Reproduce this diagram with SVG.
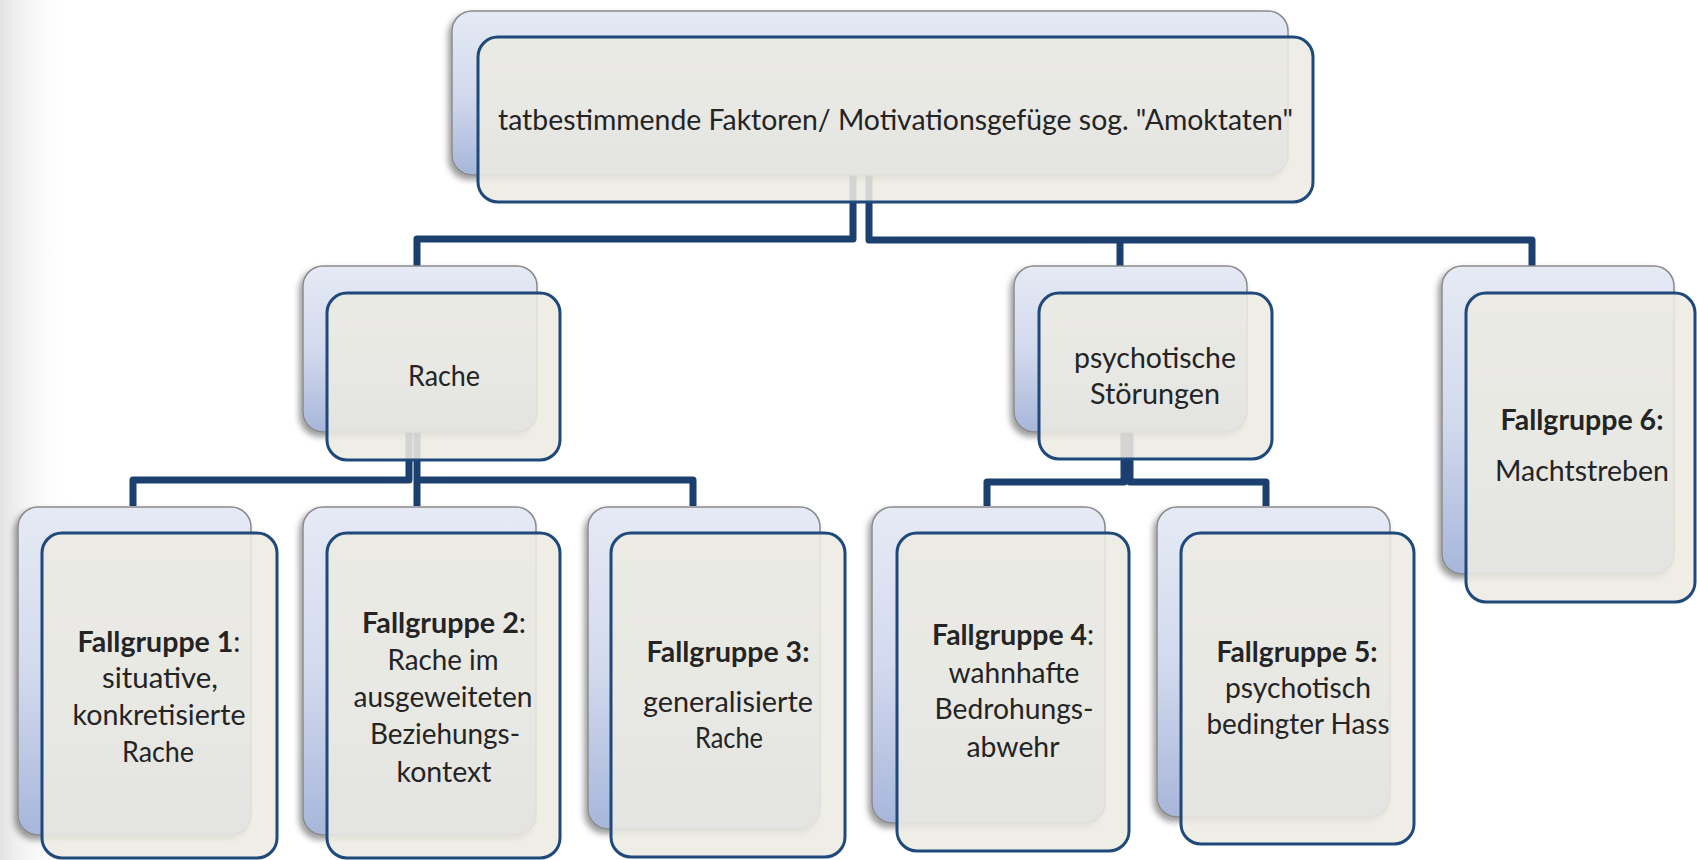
<svg xmlns="http://www.w3.org/2000/svg" width="1697" height="860" viewBox="0 0 1697 860">
<style>
.back{fill:url(#gBack);stroke:#8a8a8a;stroke-width:1.5;filter:url(#sh)}
.front{fill:#ECEAE2;fill-opacity:0.88;stroke:#1F487B;stroke-width:3}
.conn{fill:none;stroke:#1B3F6E;stroke-width:7;stroke-linejoin:round}
text{font-family:'Liberation Sans Narrow',Lato,'Liberation Sans',sans-serif;font-size:28px;fill:#242424;text-anchor:middle}
.b{font-weight:bold}
</style>
<defs>
<linearGradient id="gBack" x1="0" y1="0" x2="0" y2="1">
<stop offset="0" stop-color="#E6EAF5"/>
<stop offset="0.5" stop-color="#D3DAEE"/>
<stop offset="1" stop-color="#A7B6DA"/>
</linearGradient>
<linearGradient id="gEdge" x1="0" y1="0" x2="1" y2="0">
<stop offset="0" stop-color="#d8d8d8" stop-opacity="0.7"/>
<stop offset="1" stop-color="#ffffff" stop-opacity="0"/>
</linearGradient>
<filter id="sh" x="-10%" y="-10%" width="120%" height="125%">
<feDropShadow dx="-3" dy="4" stdDeviation="3" flood-color="#000" flood-opacity="0.4"/>
</filter>
</defs>
<rect width="1697" height="860" fill="#fff"/>
<rect width="70" height="860" fill="url(#gEdge)"/>
<g id="connectors">
<path class="conn" d="M853 170 V239 H417 V266"/>
<path class="conn" d="M869 170 V240 H1532 V268"/>
<path class="conn" d="M1120 240 V268"/>
<path class="conn" d="M409 425 V480 H133 V506"/>
<path class="conn" d="M417 425 V506"/>
<path class="conn" d="M417 480 H693 V506"/>
<path class="conn" d="M1124 425 V482 H987 V506"/>
<path class="conn" d="M1130 425 V482 H1266 V506"/>
</g>
<g id="node-top">
<rect class="back" x="452" y="11" width="836" height="164" rx="20"/>
<rect class="front" x="478" y="37" width="835" height="165" rx="20"/>
<text x="895.5" y="130" textLength="795" lengthAdjust="spacingAndGlyphs">tatbestimmende Faktoren/ Motivationsgefüge sog. "Amoktaten"</text>
</g>
<g id="node-rache">
<rect class="back" x="303" y="266" width="234" height="166" rx="20"/>
<rect class="front" x="327" y="293" width="233" height="167" rx="20"/>
<text x="444" y="386" textLength="72" lengthAdjust="spacingAndGlyphs">Rache</text>
</g>
<g id="node-psych">
<rect class="back" x="1014" y="266" width="233" height="166" rx="20"/>
<rect class="front" x="1039" y="293" width="233" height="166" rx="20"/>
<text x="1155" y="368" textLength="162" lengthAdjust="spacingAndGlyphs">psychotische</text>
<text x="1155" y="404" textLength="130" lengthAdjust="spacingAndGlyphs">Störungen</text>
</g>
<g id="node-fg6">
<rect class="back" x="1442" y="266" width="232" height="308" rx="20"/>
<rect class="front" x="1466" y="293" width="229" height="309" rx="20"/>
<text x="1582" y="430" class="b" textLength="163" lengthAdjust="spacingAndGlyphs">Fallgruppe 6:</text>
<text x="1582" y="481" textLength="174" lengthAdjust="spacingAndGlyphs">Machtstreben</text>
</g>
<g id="node-fg1">
<rect class="back" x="18" y="507" width="233" height="328" rx="20"/>
<rect class="front" x="42" y="533" width="235" height="325" rx="20"/>
<text x="159" y="652" textLength="163" lengthAdjust="spacingAndGlyphs"><tspan class="b">Fallgruppe 1</tspan>:</text>
<text x="160" y="688" textLength="116" lengthAdjust="spacingAndGlyphs">situative,</text>
<text x="159" y="725" textLength="173" lengthAdjust="spacingAndGlyphs">konkretisierte</text>
<text x="158" y="762" textLength="72" lengthAdjust="spacingAndGlyphs">Rache</text>
</g>
<g id="node-fg2">
<rect class="back" x="303" y="507" width="233" height="328" rx="20"/>
<rect class="front" x="327" y="533" width="233" height="325" rx="20"/>
<text x="444" y="633" textLength="164" lengthAdjust="spacingAndGlyphs"><tspan class="b">Fallgruppe 2</tspan>:</text>
<text x="443" y="670" textLength="111" lengthAdjust="spacingAndGlyphs">Rache im</text>
<text x="443" y="707" textLength="179" lengthAdjust="spacingAndGlyphs">ausgeweiteten</text>
<text x="445" y="744" textLength="150" lengthAdjust="spacingAndGlyphs">Beziehungs-</text>
<text x="444" y="782" textLength="95" lengthAdjust="spacingAndGlyphs">kontext</text>
</g>
<g id="node-fg3">
<rect class="back" x="588" y="507" width="232" height="322" rx="20"/>
<rect class="front" x="611" y="533" width="234" height="324" rx="20"/>
<text x="728" y="662" class="b" textLength="163" lengthAdjust="spacingAndGlyphs">Fallgruppe 3:</text>
<text x="728" y="712" textLength="170" lengthAdjust="spacingAndGlyphs">generalisierte</text>
<text x="729" y="748" textLength="68" lengthAdjust="spacingAndGlyphs">Rache</text>
</g>
<g id="node-fg4">
<rect class="back" x="872" y="507" width="233" height="316" rx="20"/>
<rect class="front" x="897" y="533" width="232" height="318" rx="20"/>
<text x="1013" y="645" textLength="162" lengthAdjust="spacingAndGlyphs"><tspan class="b">Fallgruppe 4</tspan>:</text>
<text x="1014" y="683" textLength="131" lengthAdjust="spacingAndGlyphs">wahnhafte</text>
<text x="1014" y="719" textLength="159" lengthAdjust="spacingAndGlyphs">Bedrohungs-</text>
<text x="1013" y="757" textLength="93" lengthAdjust="spacingAndGlyphs">abwehr</text>
</g>
<g id="node-fg5">
<rect class="back" x="1157" y="507" width="233" height="310" rx="20"/>
<rect class="front" x="1181" y="533" width="233" height="311" rx="20"/>
<text x="1297" y="662" class="b" textLength="161" lengthAdjust="spacingAndGlyphs">Fallgruppe 5:</text>
<text x="1298" y="698" textLength="146" lengthAdjust="spacingAndGlyphs">psychotisch</text>
<text x="1298" y="734" textLength="183" lengthAdjust="spacingAndGlyphs">bedingter Hass</text>
</g>
</svg>
